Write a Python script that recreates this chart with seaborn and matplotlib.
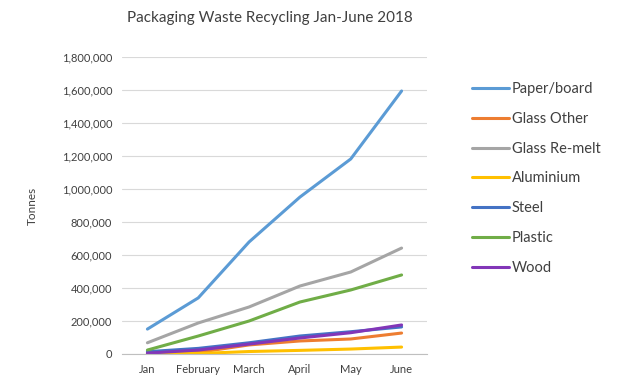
import pandas as pd
import matplotlib.pyplot as plt
import seaborn as sns
from matplotlib.ticker import FuncFormatter

sns.set_theme(style="white")
plt.rcParams['font.family'] = ['Lato', 'DejaVu Sans']

# data (tonnes)
months = ['Jan', 'February', 'March', 'April', 'May', 'June']
paper_board = [151000, 340000, 679000, 951000, 1182000, 1594000]
glass_other = [4000, 10000, 55000, 79000, 91000, 127000]
glass_remelt = [68000, 188000, 285000, 412000, 497000, 642000]
aluminium = [2000, 3000, 15000, 22000, 30000, 42000]
steel = [14000, 34000, 68000, 109000, 135000, 164000]
plastic = [24000, 109000, 200000, 315000, 388000, 479000]
wood = [5000, 24000, 60000, 97000, 129000, 176000]

materials = ['Paper/board', 'Glass Other', 'Glass Re-melt', 'Aluminium', 'Steel', 'Plastic', 'Wood']
colors = ['#5B9BD5', '#ED7D31', '#A5A5A5', '#FFC000', '#4472C4', '#70AD47', '#8236B8']
series = [paper_board, glass_other, glass_remelt, aluminium, steel, plastic, wood]

rows = []
for name, vals in zip(materials, series):
    for i, v in enumerate(vals):
        rows.append({'Month': i, 'Material': name, 'Tonnes': v})
df = pd.DataFrame(rows)

fig = plt.figure(figsize=(6.2, 3.87), dpi=100)
ax = fig.add_axes([122 / 620, 1 - 354 / 387, 305 / 620, 297 / 387])

sns.lineplot(data=df, x='Month', y='Tonnes', hue='Material', hue_order=materials,
             palette=colors, linewidth=2.2, ax=ax, legend=True)

ax.set_xlim(-0.5, 5.5)
ax.set_ylim(0, 1800000)
ax.set_yticks(range(0, 1800001, 200000))
ax.yaxis.set_major_formatter(FuncFormatter(lambda v, p: f'{int(v):,}'))
ax.set_xticks(range(len(months)))
ax.set_xticklabels(months)
ax.tick_params(axis='both', labelsize=8, colors='#404040', length=0, pad=7)
ax.grid(axis='y', color='#D9D9D9', linewidth=0.8)
ax.set_axisbelow(True)
for s in ['top', 'right', 'left']:
    ax.spines[s].set_visible(False)
ax.spines['bottom'].set_color('#BFBFBF')
ax.spines['bottom'].set_linewidth(0.8)

ax.set_xlabel('')
ax.set_ylabel('Tonnes', fontsize=8.5, color='#404040', labelpad=17)
fig.text(270 / 620, 1 - 18 / 387, 'Packaging Waste Recycling Jan-June 2018',
         ha='center', va='center', fontsize=11, color='#404040')

handles, labels = ax.get_legend_handles_labels()
ax.legend(handles, labels, loc='upper left', bbox_to_anchor=(459 / 620, 1 - 69 / 387),
          bbox_transform=fig.transFigure, frameon=False, fontsize=10.5,
          handlelength=2.5, handletextpad=0.2, labelspacing=1.08,
          labelcolor='#404040')

fig.savefig('out.png', dpi=100)
